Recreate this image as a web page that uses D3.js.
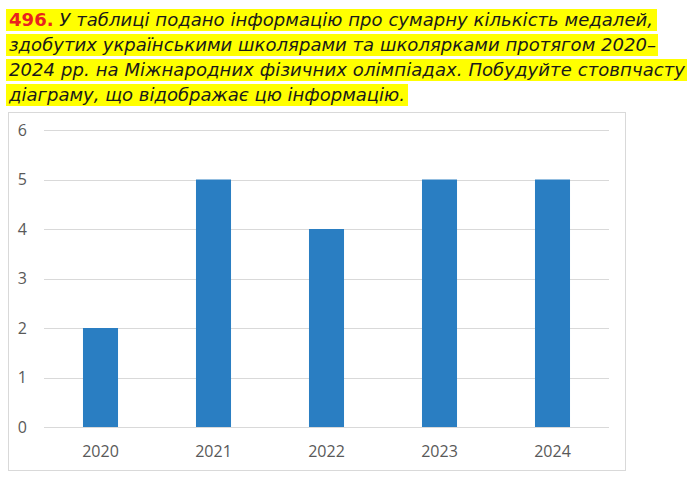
<!DOCTYPE html>
<html>
<head>
<meta charset="utf-8">
<script src="https://cdn.jsdelivr.net/npm/d3@7"></script>
<style>
  html, body { margin: 0; padding: 0; background: #fff; }
  svg { display: block; }
</style>
</head>
<body>
<svg id="chart" width="695" height="486"></svg>
<script>
const years = ["2020", "2021", "2022", "2023", "2024"];
const medals = [2, 5, 4, 5, 5];
const yTicks = [0, 1, 2, 3, 4, 5, 6];
const taskNumber = "496.";
const titleLines = [
  " У таблиці подано інформацію про сумарну кількість медалей,",
  "здобутих українськими школярами та школярками протягом 2020–",
  "2024 рр. на Міжнародних фізичних олімпіадах. Побудуйте стовпчасту",
  "діаграму, що відображає цю інформацію."
];

const svg = d3.select("#chart");

// ---- Title with yellow highlight ----
const baselines = [26, 51, 76, 101];
const textRight = [653, 656, 685, 405];
const bandRight = [657, 658, 687, 408];
const titleG = svg.append("g");
titleLines.forEach((line, i) => {
  titleG.append("rect")
    .attr("x", 6).attr("y", baselines[i] - 17)
    .attr("width", bandRight[i] - 6).attr("height", 22)
    .attr("fill", "#ffff00");
});
titleLines.forEach((line, i) => {
  const t = titleG.append("text")
    .attr("x", 9).attr("y", baselines[i])
    .attr("font-family", "'DejaVu Sans', Verdana, sans-serif")
    .attr("font-size", 18)
    .attr("font-style", "italic")
    .attr("fill", "#1a1a1a")
    .attr("textLength", textRight[i] - 9)
    .attr("lengthAdjust", "spacing");
  if (i === 0) {
    t.append("tspan").attr("font-weight", "bold").attr("font-style", "normal")
      .attr("fill", "#e8231f").text(taskNumber);
  }
  t.append("tspan").text(line);
});

// ---- Chart frame ----
svg.append("rect")
  .attr("x", 8.5).attr("y", 112.5)
  .attr("width", 617).attr("height", 358)
  .attr("fill", "#fff").attr("stroke", "#d9d9d9").attr("stroke-width", 1);

const x = d3.scaleBand().domain(years).range([44, 609])
  .paddingInner(0.69).paddingOuter(0.345);
const y = d3.scaleLinear().domain([0, 6]).range([427, 130]);

// gridlines
svg.append("g").selectAll("line").data(yTicks).join("line")
  .attr("x1", 44).attr("x2", 609)
  .attr("y1", d => Math.round(y(d)) + 0.5).attr("y2", d => Math.round(y(d)) + 0.5)
  .attr("stroke", "#d9d9d9").attr("stroke-width", 1);

// y labels
svg.append("g").selectAll("text").data(yTicks).join("text")
  .attr("x", 27).attr("y", d => y(d) + 5.5)
  .attr("text-anchor", "end")
  .attr("font-family", "'Open Sans', sans-serif")
  .attr("font-size", 16)
  .attr("fill", "#595959")
  .text(d => d);

// bars
svg.append("g").selectAll("rect").data(years).join("rect")
  .attr("x", d => x(d))
  .attr("width", x.bandwidth())
  .attr("y", (d, i) => y(medals[i]))
  .attr("height", (d, i) => y(0) - y(medals[i]))
  .attr("fill", "#2a7ec2");

// x labels
svg.append("g").selectAll("text").data(years).join("text")
  .attr("x", d => x(d) + x.bandwidth() / 2)
  .attr("y", 457)
  .attr("text-anchor", "middle")
  .attr("font-family", "'Open Sans', sans-serif")
  .attr("font-size", 16)
  .attr("fill", "#595959")
  .text(d => d);
</script>
</body>
</html>
